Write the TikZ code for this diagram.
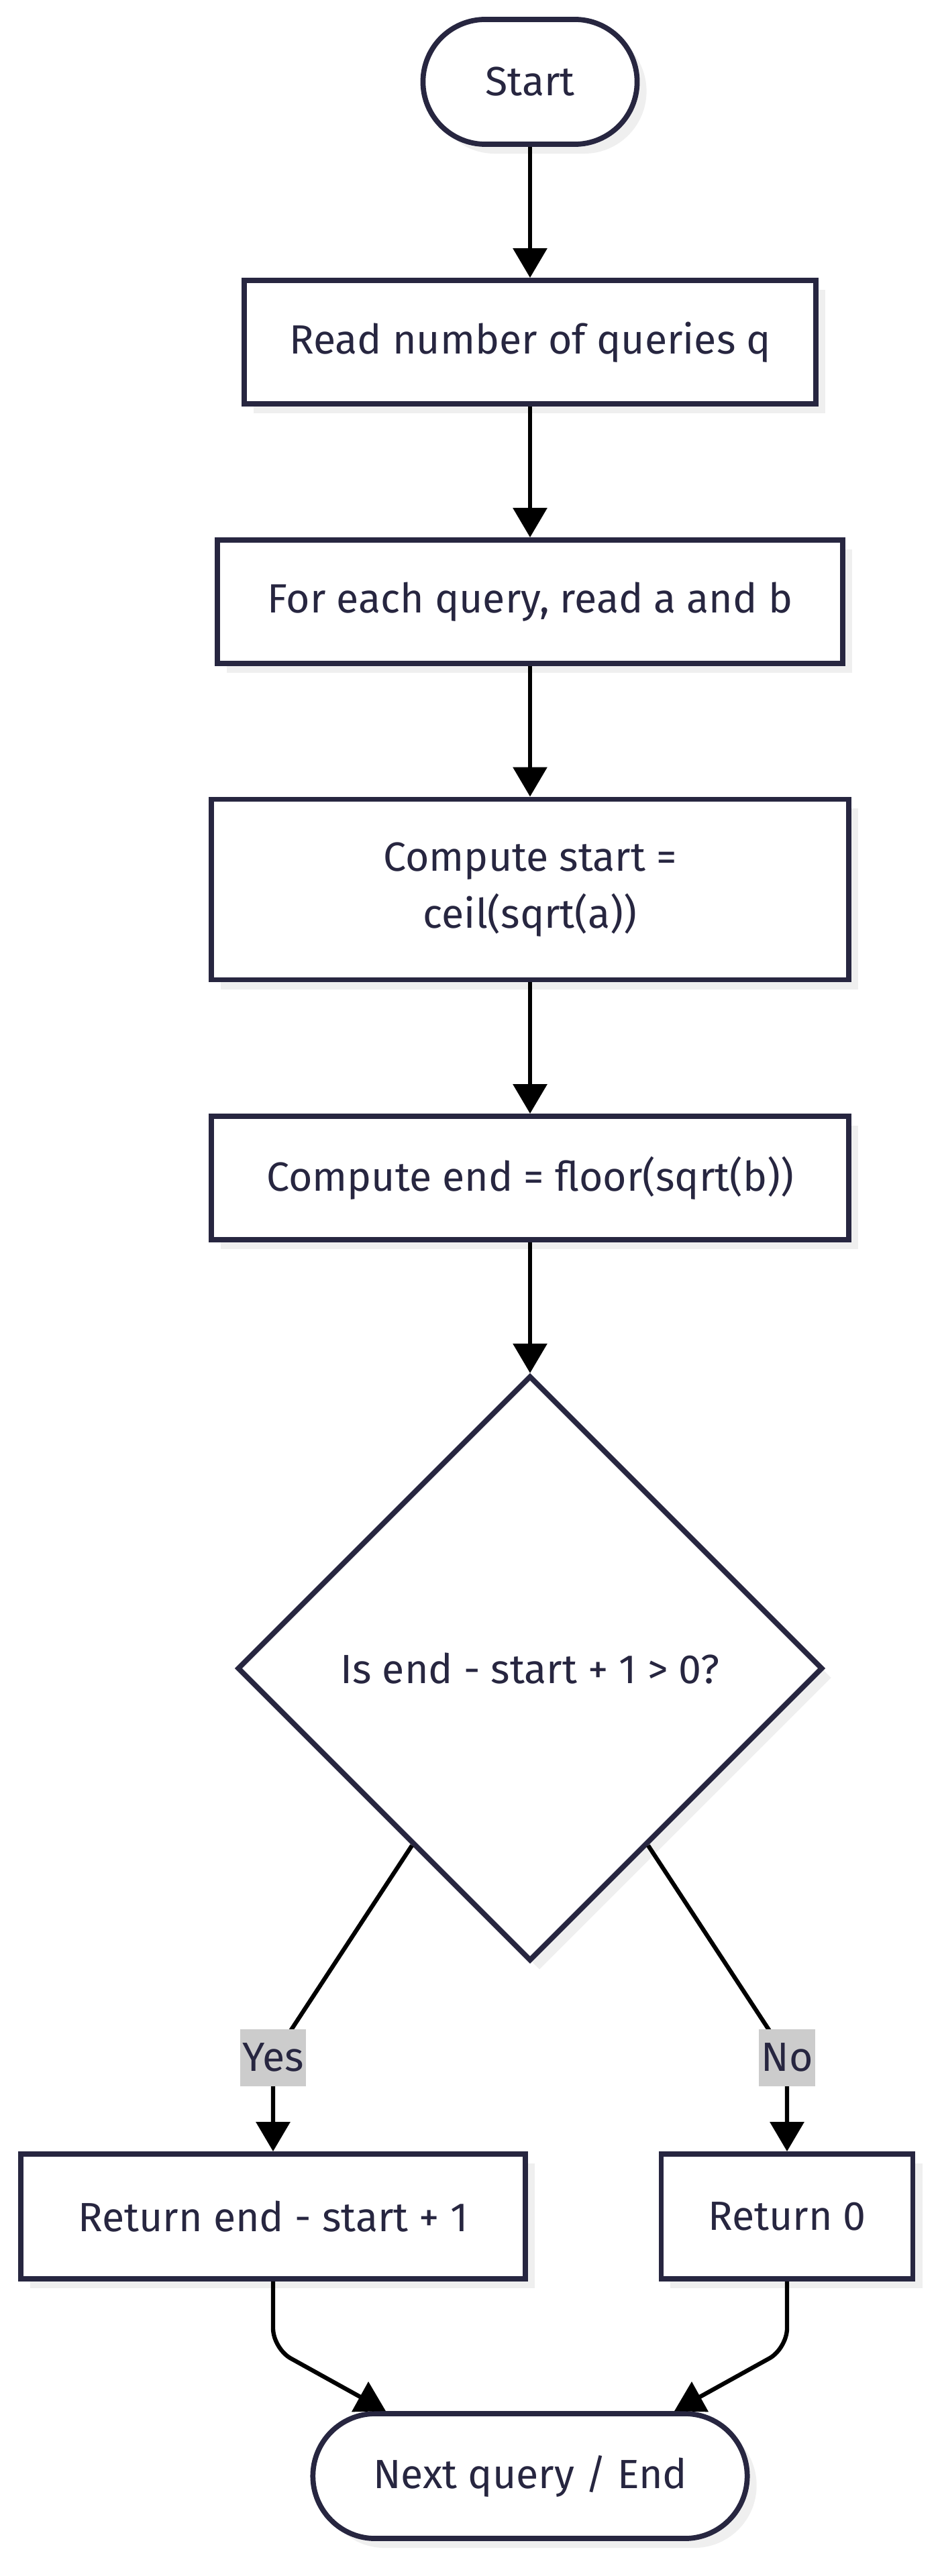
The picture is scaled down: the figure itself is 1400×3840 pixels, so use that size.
\documentclass[tikz,border=0pt]{standalone}
\usepackage{fontspec}
\setmainfont{Fira Sans}
\usetikzlibrary{shapes.geometric,arrows.meta,shadows,calc}
\definecolor{ink}{HTML}{272640}
\definecolor{shade}{HTML}{EFEFEF}
\definecolor{tagfill}{HTML}{CCCCCC}

\begin{document}
\begin{tikzpicture}[
  x=0.01cm, y=-0.01cm,
  base/.style={draw=ink, line width=2.2pt, fill=white, text=ink, align=center,
               font=\fontsize{17.3}{24}\selectfont,
               drop shadow={shadow xshift=0.14cm, shadow yshift=-0.14cm,
                            fill=shade, opacity=1}},
  term/.style={base, rectangle, rounded corners=0.93cm, minimum height=1.86cm},
  box/.style={base, rectangle, minimum height=1.84cm},
  decision/.style={base, diamond, minimum width=8.72cm, minimum height=8.72cm,
                   inner sep=0pt},
  tag/.style={fill=tagfill, text=ink, font=\fontsize{17.3}{24}\selectfont,
              inner xsep=0.03cm, inner ysep=0pt, minimum height=0.85cm},
  arr/.style={-{Triangle[length=0.44cm, width=0.5cm]}, line width=1.8pt, black}
]
\useasboundingbox (0,0) rectangle (1400,3840);

\node[term, minimum width=3.19cm] (start) at (790,122) {Start};
\node[box, minimum width=8.51cm] (readq) at (790,510) {Read number of queries q};
\node[box, minimum width=9.31cm] (readab) at (790,897) {For each query, read a and b};
\node[box, minimum width=9.49cm, minimum height=2.69cm] (lo) at (790,1326)
  {Compute start =\\ceil(sqrt(a))};
\node[box, minimum width=9.49cm] (hi) at (790,1756) {Compute end = floor(sqrt(b))};
\draw[arr] (start) -- (readq);
\draw[arr] (readq) -- (readab);
\draw[arr] (readab) -- (lo);
\draw[arr] (lo) -- (hi);

\node[decision] (check) at (790,2487) {Is end - start + 1 > 0?};
\draw[arr] (hi) -- (check);

\node[box, minimum width=7.51cm, minimum height=1.86cm] (yes) at (407,3304)
  {Return end - start + 1};
\node[box, minimum width=3.75cm, minimum height=1.86cm] (no) at (1173,3304)
  {Return 0};

% branch labels sit on top of the lines
\coordinate (yesat) at (407,3067);
\coordinate (noat) at (1173,3067);
\draw[arr] ($(check.west)!0.6!(check.south)$) -- (yesat) -- (yes);
\draw[arr] ($(check.east)!0.6!(check.south)$) -- (noat) -- (no);
\node[tag] (yeslbl) at (yesat) {Yes};
\node[tag] (nolbl) at (noat) {No};

\node[term, minimum width=6.47cm] (next) at (790,3691) {Next query / End};
\draw[arr, rounded corners=0.3cm] (yes.south) -- ++(0,100)
  -- ($(next.north)+(-215,0)$);
\draw[arr, rounded corners=0.3cm] (no.south) -- ++(0,100)
  -- ($(next.north)+(215,0)$);
\end{tikzpicture}
\end{document}
